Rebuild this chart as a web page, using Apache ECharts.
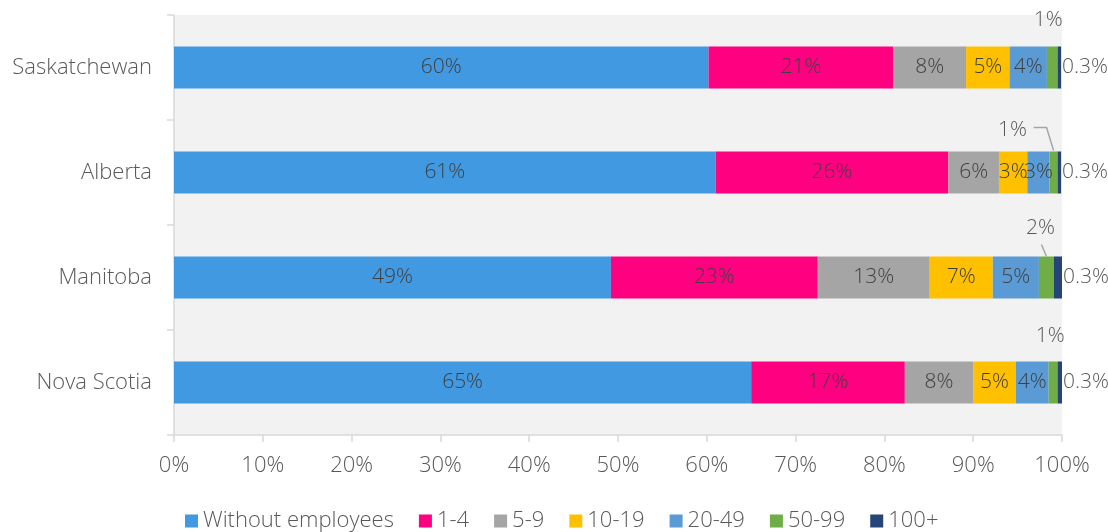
<!DOCTYPE html>
<html>
<head>
<meta charset="utf-8">
<script src="https://cdn.jsdelivr.net/npm/echarts@6/dist/echarts.min.js"></script>
<style>
  html, body { margin: 0; padding: 0; background: #fff; }
  #chart { width: 1108px; height: 532px; }
</style>
</head>
<body>
<div id="chart"></div>
<script>
// categories and series (share of businesses, %)
var provinces = ["Saskatchewan", "Alberta", "Manitoba", "Nova Scotia"];
var sizeClasses = ["Without employees", "1-4", "5-9", "10-19", "20-49", "50-99", "100+"];
var withoutEmployees = [60.2, 61.0, 49.2, 65.0];
var emp1to4 = [20.8, 26.2, 23.3, 17.3];
var emp5to9 = [8.2, 5.7, 12.6, 7.7];
var emp10to19 = [4.9, 3.2, 7.1, 4.8];
var emp20to49 = [4.2, 2.5, 5.2, 3.7];
var emp50to99 = [1.2, 0.9, 1.7, 1.0];
var emp100plus = [0.4, 0.4, 0.9, 0.5];
var emp100plusLabels = ["0.3%", "0.3%", "0.3%", "0.3%"];

var colors = ["#4199e1", "#ff0080", "#a5a5a5", "#ffc000", "#5b9bd5", "#70ad47", "#264478"];
var textColor = "#595959";
var axisColor = "#d9d9d9";
var font = "'Open Sans', 'Noto Sans', sans-serif";
var weight = 300;

// where the small 50-99 labels sit, relative to the top centre of their bar
var greenPlacement = [
  { dx: -4, dy: -26 },
  { dx: -41, dy: -21 },
  { dx: -6, dy: -28 },
  { dx: -3, dy: -25 }
];
// leader lines for the moved labels (row, points relative to bar top centre)
var leaderLines = [
  { row: 1, pts: [[-20, -24], [-7, -24], [0, -1]] },
  { row: 2, pts: [[-5, -12], [0, 0]] }
];

function pct(p) {
  return Math.round(p.value) + "%";
}

function labelStyle(extra) {
  var s = { color: textColor, fontSize: 21, fontFamily: font, fontWeight: weight };
  for (var k in extra) s[k] = extra[k];
  return s;
}

function insideSeries(name, values, color) {
  return {
    name: name,
    type: "bar",
    stack: "total",
    barWidth: 42,
    data: values,
    itemStyle: { color: color },
    label: labelStyle({ show: true, position: "inside", formatter: pct, color: "#404040" })
  };
}

var series = [
  insideSeries(sizeClasses[0], withoutEmployees, colors[0]),
  insideSeries(sizeClasses[1], emp1to4, colors[1]),
  insideSeries(sizeClasses[2], emp5to9, colors[2]),
  insideSeries(sizeClasses[3], emp10to19, colors[3]),
  insideSeries(sizeClasses[4], emp20to49, colors[4]),
  {
    name: sizeClasses[5],
    type: "bar",
    stack: "total",
    barWidth: 42,
    data: emp50to99,
    itemStyle: { color: colors[5] },
    label: labelStyle({ show: true, position: "top", formatter: pct }),
    labelLayout: function (p) {
      var g = greenPlacement[p.dataIndex];
      return {
        x: p.rect.x + p.rect.width / 2 + g.dx,
        y: p.rect.y + g.dy,
        align: "center",
        verticalAlign: "middle"
      };
    }
  },
  {
    name: sizeClasses[6],
    type: "bar",
    stack: "total",
    barWidth: 42,
    data: emp100plus,
    itemStyle: { color: colors[6] },
    label: labelStyle({
      show: true,
      position: "right",
      distance: 1,
      formatter: function (p) { return emp100plusLabels[p.dataIndex]; }
    })
  }
];

var chart = echarts.init(document.getElementById("chart"));
chart.setOption({
  animation: false,
  grid: {
    left: 174,
    right: 46,
    top: 15,
    bottom: 97,
    show: true,
    backgroundColor: "#f2f2f2",
    borderWidth: 0
  },
  legend: {
    data: sizeClasses,
    left: 180,
    top: 505,
    icon: "rect",
    itemWidth: 13,
    itemHeight: 13,
    itemGap: 25,
    textStyle: { color: textColor, fontSize: 22, fontFamily: font, fontWeight: weight }
  },
  xAxis: {
    type: "value",
    min: 0,
    max: 100,
    interval: 10,
    axisLine: { show: true, lineStyle: { color: axisColor, width: 1.5 } },
    axisTick: { show: true, length: 7, lineStyle: { color: axisColor, width: 1.5 } },
    splitLine: { show: false },
    axisLabel: {
      formatter: "{value}%",
      color: textColor,
      fontSize: 22,
      fontFamily: font,
      fontWeight: weight,
      margin: 20
    }
  },
  yAxis: {
    type: "category",
    inverse: true,
    data: provinces,
    axisLine: { show: true, lineStyle: { color: axisColor, width: 1.5 } },
    axisTick: { show: true, length: 7, lineStyle: { color: axisColor, width: 1.5 } },
    axisLabel: {
      color: textColor,
      fontSize: 22,
      fontFamily: font,
      fontWeight: weight,
      margin: 22
    }
  },
  series: series
});

// leader lines, placed from the chart's own scale
var stackBefore = [withoutEmployees, emp1to4, emp5to9, emp10to19, emp20to49];
var lines = leaderLines.map(function (l) {
  var start = 0;
  stackBefore.forEach(function (arr) { start += arr[l.row]; });
  var c = chart.convertToPixel({ gridIndex: 0 }, [start + emp50to99[l.row] / 2, l.row]);
  var top = c[1] - 21;
  return {
    type: "polyline",
    silent: true,
    shape: { points: l.pts.map(function (q) { return [c[0] + q[0], top + q[1]]; }) },
    style: { stroke: "#a6a6a6", lineWidth: 1.5, fill: null }
  };
});
chart.setOption({ graphic: lines });
</script>
</body>
</html>
